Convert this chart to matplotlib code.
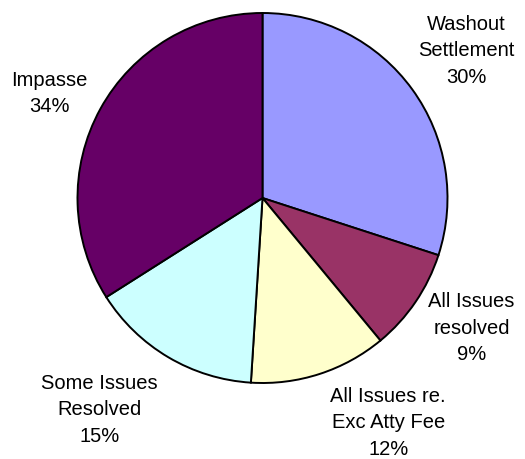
import matplotlib
matplotlib.use("Agg")
import matplotlib.pyplot as plt

plt.rcParams['font.family'] = ['Liberation Sans', 'DejaVu Sans']

categories = ["Washout\nSettlement", "All Issues\nresolved", "All Issues re.\nExc Atty Fee",
              "Some Issues\nResolved", "Impasse"]
shares = [30, 9, 12, 15, 34]
colors = ["#9999FF", "#993366", "#FFFFCC", "#CCFFFF", "#660066"]

# label anchor points, in pie-radius units
label_pos = [(1.10, 0.80), (1.13, -0.70), (0.68, -1.21), (-0.88, -1.14), (-1.15, 0.57)]

fig = plt.figure(figsize=(5.25, 4.6), dpi=100)
ax = fig.add_axes([0, 0, 1, 1])
ax.pie(shares, colors=colors, startangle=90, counterclock=False, radius=1.0,
       wedgeprops=dict(edgecolor="black", linewidth=1.4))
ax.set_xlim(-262.5 / 185, (525 - 262.5) / 185)
ax.set_ylim((199 - 460) / 185, 199 / 185)
ax.set_aspect('auto')
ax.axis('off')

for name, val, (x, y) in zip(categories, shares, label_pos):
    ax.text(x, y, f"{name}\n{val}%", ha='center', va='center', fontsize=14.5,
            linespacing=1.5)

fig.savefig("out.png", dpi=100)
